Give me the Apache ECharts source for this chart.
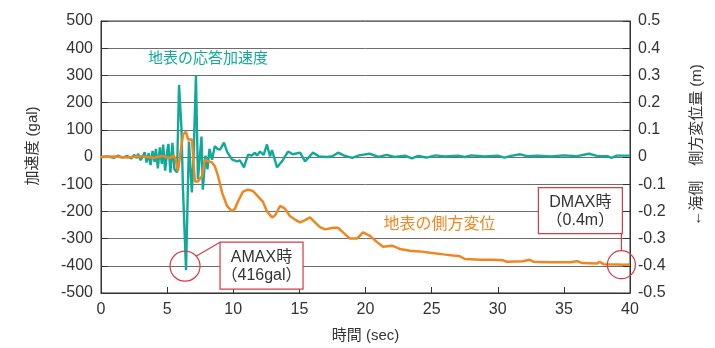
<!DOCTYPE html>
<html>
<head>
<meta charset="utf-8">
<script src="https://cdn.jsdelivr.net/npm/echarts@6/dist/echarts.min.js"></script>
<style>
  html, body { margin: 0; padding: 0; background: #fff; }
  #chart { width: 715px; height: 348px; }
</style>
</head>
<body>
<div id="chart"></div>
<script>
// Ground-surface response: acceleration (gal) and lateral displacement (m) over time (sec)
const timeTicks = [0, 5, 10, 15, 20, 25, 30, 35, 40];
const accelTicks = [-500, -400, -300, -200, -100, 0, 100, 200, 300, 400, 500];
const dispTicks = [-0.5, -0.4, -0.3, -0.2, -0.1, 0, 0.1, 0.2, 0.3, 0.4, 0.5];

// [time (sec), acceleration (gal)]
const accelSeries = [
  [0, 0], [0.5, 2], [1.0, -3], [1.3, 5], [1.6, -2], [2.0, 4], [2.3, -6], [2.5, 8],
  [2.7, -4], [2.8, 12], [3.0, -12], [3.2, 6], [3.3, 18], [3.45, -20], [3.6, 14], [3.75, -30],
  [3.9, 22], [4.05, -18], [4.15, 30], [4.3, -42], [4.45, 35], [4.6, -25], [4.7, 46],
  [4.85, -50], [5.0, 20], [5.1, 48], [5.25, -58], [5.4, 52], [5.55, -45], [5.75, -57], [5.9, 265],
  [6.08, 110], [6.2, -120], [6.43, -416], [6.65, 57], [6.87, -130], [7.0, 0],
  [7.18, 300], [7.33, -82], [7.6, 75], [7.7, -120], [7.9, 5], [8.05, -45], [8.2, 30],
  [8.4, -10], [8.6, 40], [8.8, 30], [9.0, 27], [9.3, 53], [9.53, 20], [9.9, -9],
  [10.28, -16], [10.5, -12], [10.81, -38], [11.12, 9], [11.4, 5], [11.64, 16],
  [11.8, 5], [12.02, 20], [12.3, 8], [12.55, 46], [12.78, 2], [12.93, 25],
  [13.31, -38], [13.69, -16], [14.14, 20], [14.5, 10], [15.05, 16], [15.43, -16],
  [16.03, 16], [16.5, 2], [17.09, 0], [17.5, 3], [17.92, 16], [18.4, 5], [19.0, -3],
  [19.5, 6], [20.3, 12], [21.0, 0], [21.6, 8], [22.2, 0], [23.0, 5], [23.5, -5],
  [24.0, 4], [24.6, -2], [25.3, 6], [26.0, 2], [27.0, 5], [27.5, 0], [28.0, 6],
  [29.0, 2], [30.0, 5], [30.5, -2], [31.0, 4], [31.7, 10], [32.2, 3], [33.0, 5],
  [34.0, 2], [35.0, 6], [36.0, 3], [36.9, 12], [37.5, 4], [38.3, 3], [38.6, -3],
  [39.0, 5], [40.0, 5]
];

// [time (sec), lateral displacement (m)]
const dispSeries = [
  [0, 0], [1, 0.002], [2, -0.002], [3, 0.003], [4, -0.003], [4.6, 0.004], [5.2, -0.004],
  [5.5, 0.005], [5.65, -0.01], [5.82, -0.052], [5.97, -0.046], [6.2, 0.082], [6.43, 0.093],
  [6.58, 0.064], [6.88, 0.064], [7.1, -0.09], [7.33, -0.09], [7.64, -0.07], [7.86, -0.01],
  [8.1, -0.015], [8.39, -0.02], [8.62, -0.035], [8.85, -0.07], [9.15, -0.13], [9.53, -0.18],
  [9.9, -0.2], [10.13, -0.19], [10.36, -0.163], [10.74, -0.127], [11.12, -0.12],
  [11.49, -0.125], [11.87, -0.145], [12.25, -0.165], [12.55, -0.2], [12.93, -0.222],
  [13.16, -0.215], [13.54, -0.18], [13.91, -0.19], [14.29, -0.218], [14.67, -0.23],
  [15.05, -0.24], [15.43, -0.232], [15.8, -0.222], [16.18, -0.24], [16.56, -0.258],
  [16.94, -0.266], [17.54, -0.26], [17.92, -0.26], [18.3, -0.277], [18.83, -0.3],
  [19.36, -0.3], [19.81, -0.277], [20.34, -0.29], [20.87, -0.313], [21.32, -0.33],
  [22.0, -0.326], [22.6, -0.338], [23.37, -0.345], [24.1, -0.347], [24.9, -0.352],
  [25.9, -0.358], [26.6, -0.362], [27.1, -0.364], [27.5, -0.375], [28.7, -0.378],
  [29.6, -0.378], [30.4, -0.38], [30.7, -0.385], [31.9, -0.383], [32.4, -0.378],
  [32.7, -0.385], [33.95, -0.387], [34.2, -0.387], [35.5, -0.387], [35.7, -0.385],
  [36.0, -0.383], [36.4, -0.39], [37.5, -0.392], [37.7, -0.385], [38.0, -0.394],
  [39.0, -0.395], [39.5, -0.396], [40, -0.395]
];

// Peak markers
const amaxPoint = [6.43, -416];
const dmaxPoint = [39.5, -0.396];

const TEAL = '#12a99a';
const ORANGE = '#f0861f';
const RED = '#d23c46';
const INK = '#333333';
const GRID = '#6e6e6e';
const FONT = '"Liberation Sans", "Noto Sans CJK JP", sans-serif';

const chart = echarts.init(document.getElementById('chart'), null, { renderer: 'canvas' });

function fmt(v) {
  return String(Math.round(v * 10) / 10);
}

chart.setOption({
  animation: false,
  backgroundColor: '#fff',
  textStyle: { fontFamily: FONT },
  grid: {
    left: 101, right: 85, top: 21, bottom: 54,
    show: true, borderColor: INK, borderWidth: 1, backgroundColor: 'transparent'
  },
  xAxis: {
    type: 'value',
    min: timeTicks[0], max: timeTicks[timeTicks.length - 1],
    interval: timeTicks[1] - timeTicks[0],
    name: '時間 (sec)',
    nameLocation: 'middle',
    nameGap: 35,
    nameTextStyle: { color: INK, fontSize: 15, fontFamily: FONT },
    axisLine: { show: true, onZero: false, lineStyle: { color: INK, width: 1 } },
    axisTick: { show: true, inside: true, length: 6, lineStyle: { color: INK } },
    axisLabel: { color: INK, fontSize: 16, margin: 9, fontFamily: FONT },
    splitLine: { show: false }
  },
  yAxis: [
    {
      type: 'value',
      min: accelTicks[0], max: accelTicks[accelTicks.length - 1],
      interval: accelTicks[1] - accelTicks[0],
      axisLine: { show: true, onZero: false, lineStyle: { color: INK, width: 1 } },
      axisTick: { show: true, inside: true, length: 7, lineStyle: { color: INK } },
      axisLabel: { color: INK, fontSize: 16, margin: 8, fontFamily: FONT },
      splitLine: { show: true, lineStyle: { color: GRID, width: 1 } }
    },
    {
      type: 'value',
      position: 'right',
      min: dispTicks[0], max: dispTicks[dispTicks.length - 1],
      interval: 0.1,
      axisLine: { show: true, onZero: false, lineStyle: { color: INK, width: 1 } },
      axisTick: { show: true, inside: true, length: 7, lineStyle: { color: INK } },
      axisLabel: { color: INK, fontSize: 16, margin: 8, fontFamily: FONT, formatter: fmt },
      splitLine: { show: false }
    }
  ],
  series: [
    {
      name: '地表の応答加速度',
      type: 'line',
      xAxisIndex: 0, yAxisIndex: 0,
      data: accelSeries,
      symbol: 'none',
      lineStyle: { color: TEAL, width: 2.4 },
      z: 2
    },
    {
      name: '地表の側方変位',
      type: 'line',
      xAxisIndex: 0, yAxisIndex: 1,
      data: dispSeries,
      symbol: 'none',
      lineStyle: { color: ORANGE, width: 2.5 },
      z: 3
    }
  ]
});

// Annotations anchored to the data
const [ax, ay] = chart.convertToPixel({ seriesIndex: 0 }, amaxPoint);
const [dx, dy] = chart.convertToPixel({ seriesIndex: 1 }, dmaxPoint);
const [tlx, tly] = chart.convertToPixel({ seriesIndex: 0 }, [8.1, 300]);
const [olx, oly] = chart.convertToPixel({ seriesIndex: 1 }, [25.6, -0.25]);

const boxText = (x, y, text) => ({
  type: 'text', x: x, y: y, z: 20,
  style: { text: text, fill: INK, font: '16px ' + FONT, align: 'center', verticalAlign: 'middle' }
});

const aCx = ax - 1, aCy = ay - 4;
const aBox = { x: aCx + 35, y: aCy - 24, width: 83, height: 47 };
const dCx = dx - 2, dCy = dy;
const dBox = { x: dCx - 83, y: dCy - 77, width: 84, height: 46 };

chart.setOption({
  graphic: [
    // series labels
    {
      type: 'text', x: tlx, y: tly - 17, z: 20,
      style: { text: '地表の応答加速度', fill: TEAL, font: '15px ' + FONT, align: 'center', verticalAlign: 'middle' }
    },
    {
      type: 'text', x: olx, y: oly, z: 20,
      style: { text: '地表の側方変位', fill: ORANGE, font: '16px ' + FONT, align: 'center', verticalAlign: 'middle' }
    },
    // axis titles
    {
      type: 'text', x: 33, y: 146, rotation: Math.PI / 2, z: 20,
      style: { text: '加速度 (gal)', fill: INK, font: '15px ' + FONT, align: 'center', verticalAlign: 'middle' }
    },
    {
      type: 'text', x: 697, y: 145, rotation: Math.PI / 2, z: 20,
      style: { text: '←海側　側方変位量 (m)', fill: INK, font: '15px ' + FONT, align: 'center', verticalAlign: 'middle' }
    },
    // AMAX callout
    {
      type: 'circle', z: 15, shape: { cx: aCx, cy: aCy, r: 15 },
      style: { fill: 'none', stroke: RED, lineWidth: 1.2 }
    },
    {
      type: 'line', z: 15, shape: { x1: aCx + 11, y1: aCy - 10, x2: aBox.x, y2: aBox.y },
      style: { stroke: RED, lineWidth: 1.2 }
    },
    {
      type: 'rect', z: 16, shape: aBox,
      style: { fill: '#fff', stroke: RED, lineWidth: 1.2 }
    },
    boxText(aBox.x + aBox.width / 2, aBox.y + 15, 'AMAX時'),
    boxText(aBox.x + aBox.width / 2, aBox.y + 33, '（416gal）'),
    // DMAX callout
    {
      type: 'circle', z: 15, shape: { cx: dCx, cy: dCy, r: 14 },
      style: { fill: 'none', stroke: RED, lineWidth: 1.2 }
    },
    {
      type: 'line', z: 15, shape: { x1: dBox.x + dBox.width - 1, y1: dBox.y + dBox.height, x2: dBox.x + dBox.width - 1, y2: dCy - 14 },
      style: { stroke: RED, lineWidth: 1.2 }
    },
    {
      type: 'rect', z: 16, shape: dBox,
      style: { fill: '#fff', stroke: RED, lineWidth: 1.2 }
    },
    boxText(dBox.x + dBox.width / 2, dBox.y + 15, 'DMAX時'),
    boxText(dBox.x + dBox.width / 2, dBox.y + 33, '（0.4m）')
  ]
});
</script>
</body>
</html>
